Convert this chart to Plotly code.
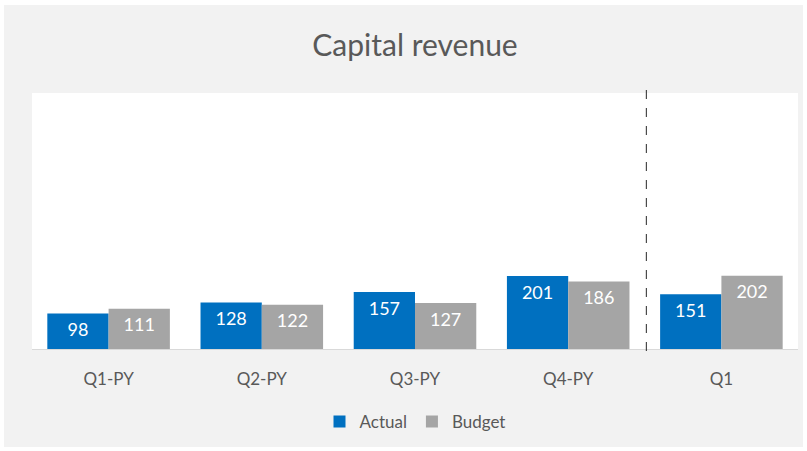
import numpy as np
import plotly.graph_objects as go

categories = ["Q1-PY", "Q2-PY", "Q3-PY", "Q4-PY", "Q1"]
actual = [98, 128, 157, 201, 151]
budget = [111, 122, 127, 186, 202]

BLUE = "#0070C0"
GRAY = "#A5A5A5"
TXT = "#595959"
FONT = "Lato, 'Open Sans', sans-serif"

idx = np.arange(len(categories))
label_drop = 50  # label sits a little below bar top

fig = go.Figure()
fig.add_trace(go.Bar(x=idx, y=actual, name="Actual", marker=dict(color=BLUE, line=dict(width=0))))
fig.add_trace(go.Bar(x=idx, y=budget, name="Budget", marker=dict(color=GRAY, line=dict(width=0))))

fig.add_trace(go.Scatter(x=idx - 0.2, y=np.array(actual) - label_drop, text=[str(v) for v in actual],
                         mode="text", textposition="middle center",
                         textfont=dict(color="white", size=18, family=FONT),
                         showlegend=False, hoverinfo="skip"))
fig.add_trace(go.Scatter(x=idx + 0.2, y=np.array(budget) - label_drop, text=[str(v) for v in budget],
                         mode="text", textposition="middle center",
                         textfont=dict(color="white", size=18, family=FONT),
                         showlegend=False, hoverinfo="skip"))

# plot area geometry (pixels)
L, R, T, B = 32, 798, 93, 349
W, H = 807, 451
pw, ph = R - L, B - T

shapes = [
    # gray chart-area background
    dict(type="rect", xref="paper", yref="paper", layer="below",
         x0=(4 - L) / pw, x1=(803 - L) / pw, y0=(B - 447) / ph, y1=(B - 5) / ph,
         fillcolor="#F2F2F2", line=dict(width=0)),
    # white plot area
    dict(type="rect", xref="paper", yref="paper", layer="below",
         x0=0, x1=1, y0=0, y1=1, fillcolor="white", line=dict(width=0)),
    # separator between prior year and current year
    dict(type="line", xref="x", yref="paper", x0=3.51, x1=3.51,
         y0=(B - 351) / ph, y1=(B - 86) / ph,
         line=dict(color="#262626", width=1, dash="dash")),
]

fig.update_layout(
    width=W, height=H,
    margin=dict(l=L, r=W - R, t=T, b=H - B),
    paper_bgcolor="white", plot_bgcolor="white",
    barmode="group", bargap=0.2, bargroupgap=0,
    font=dict(family=FONT, color=TXT, size=17),
    title=dict(text="Capital revenue", x=0.5, xanchor="center", xref="paper",
               y=1 - 45 / H, yanchor="middle", yref="container",
               font=dict(size=30, color=TXT, family=FONT)),
    legend=dict(orientation="h", x=0.5, xanchor="center", y=(B - 422) / ph, yanchor="middle",
                font=dict(size=17, color=TXT), bgcolor="rgba(0,0,0,0)", itemwidth=30,
                traceorder="normal"),
    shapes=shapes,
    showlegend=True,
)
fig.update_xaxes(range=[-0.5, len(categories) - 0.5], tickmode="array", tickvals=idx, ticktext=categories,
                 showgrid=False, zeroline=False, showline=True, linecolor="#D9D9D9", linewidth=1,
                 ticks="outside", ticklen=15, tickcolor="rgba(0,0,0,0)",
                 tickfont=dict(size=17, color=TXT, family=FONT), fixedrange=True)
fig.update_yaxes(range=[0, 705], visible=False, showgrid=False, zeroline=False, fixedrange=True)

fig.write_html("out.html", config={"displayModeBar": False},
               post_script="document.body.style.margin='0';")
